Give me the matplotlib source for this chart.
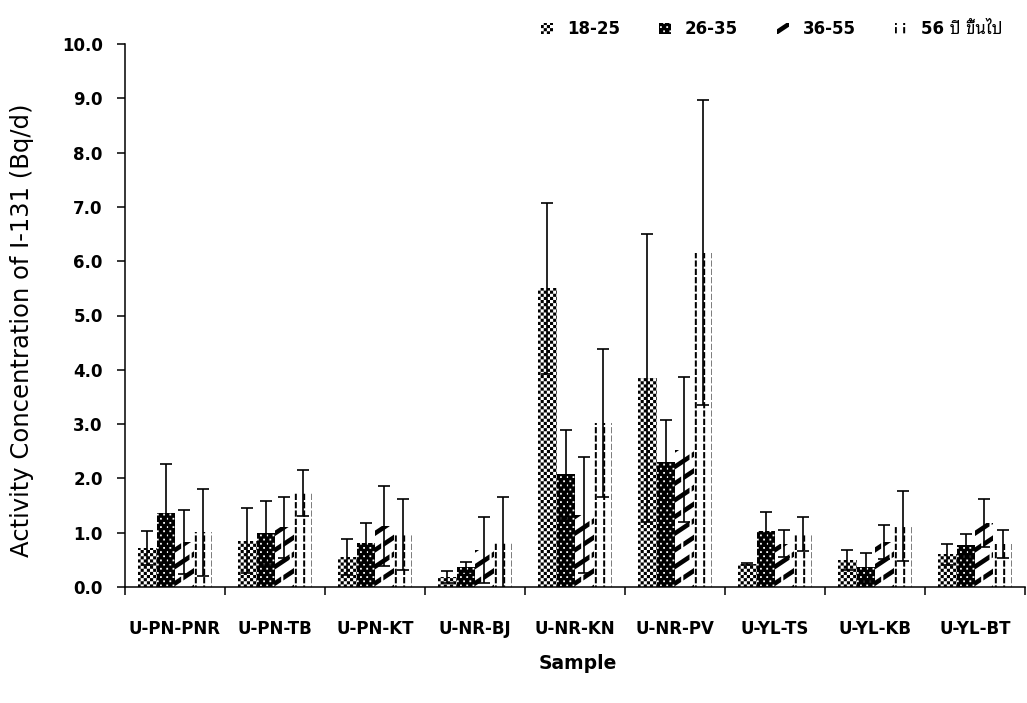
import warnings
import numpy as np
import matplotlib
matplotlib.use('Agg')
import matplotlib.pyplot as plt
import matplotlib.hatch as mhatch
from matplotlib.path import Path

warnings.filterwarnings('ignore')
# Thai glyphs are missing in DejaVu, so fall back to a Thai family
plt.rcParams['font.family'] = ['DejaVu Sans', 'Noto Sans Thai Looped', 'Sarabun', 'Bai Jamjuree']
plt.rcParams['hatch.linewidth'] = 0.0

samples = ['U-PN-PNR', 'U-PN-TB', 'U-PN-KT', 'U-NR-BJ', 'U-NR-KN',
           'U-NR-PV', 'U-YL-TS', 'U-YL-KB', 'U-YL-BT']
groups = ['18-25', '26-35', '36-55', '56 ปี ขึ้นไป']

mean_18_25 = [0.72, 0.85, 0.55, 0.18, 5.50, 3.85, 0.42, 0.50, 0.60]
err_18_25 = [0.32, 0.60, 0.33, 0.11, 1.58, 2.66, 0.02, 0.18, 0.19]
mean_26_35 = [1.36, 1.00, 0.81, 0.37, 2.08, 2.30, 1.03, 0.37, 0.78]
err_26_35 = [0.91, 0.59, 0.37, 0.09, 0.82, 0.78, 0.35, 0.26, 0.20]
mean_36_55 = [0.83, 1.10, 1.12, 0.68, 1.33, 2.53, 0.80, 0.83, 1.18]
err_36_55 = [0.59, 0.56, 0.74, 0.60, 1.07, 1.34, 0.25, 0.31, 0.44]
mean_56 = [1.01, 1.73, 0.97, 0.81, 3.02, 6.16, 0.97, 1.12, 0.79]
err_56 = [0.80, 0.43, 0.65, 0.84, 1.37, 2.80, 0.31, 0.64, 0.26]


# fill patterns of the original (checker, dots, broken slashes, dashed lines)
class PolyHatch(mhatch.HatchPatternBase):
    key = None

    def __init__(self, hatch, density):
        self.polys = self.make_polys() if (hatch and self.key in hatch) else []
        self.num_vertices = 5 * len(self.polys)

    def set_vertices_and_codes(self, vertices, codes):
        for i, p in enumerate(self.polys):
            vertices[5 * i:5 * i + 4] = p
            vertices[5 * i + 4] = p[0]
            codes[5 * i:5 * i + 5] = [Path.MOVETO, Path.LINETO, Path.LINETO,
                                      Path.LINETO, Path.CLOSEPOLY]


def box(x0, y0, x1, y1):
    return [(x0, y0), (x1, y0), (x1, y1), (x0, y1)]


class CheckerHatch(PolyHatch):
    key = 'c'

    def make_polys(self):
        n = 32
        s = 1 / n
        return [box(j * s, i * s, (j + 1) * s, (i + 1) * s)
                for i in range(n) for j in range(n) if (i + j) % 2 == 0]


class DotHatch(PolyHatch):
    key = 'd'

    def make_polys(self):
        d = 0.009
        polys = []
        for i in range(24):
            y = (i + 0.5) / 24
            for j in range(16):
                x = (j + 0.25 + 0.5 * (i % 2)) / 16
                polys.append(box(x - d, y - d, x + d, y + d))
        return polys


class SlashHatch(PolyHatch):
    key = 's'

    def make_polys(self):
        t = 0.055
        L = 0.145
        k_slope = 2 / 3
        polys = []
        for k in range(-7, 8):
            c = k / 6
            for m in range(-1, 7):
                x0 = m / 6 + (k % 2) / 12
                x1 = x0 + L
                polys.append([(x0, k_slope * x0 + c - t / 2), (x1, k_slope * x1 + c - t / 2),
                              (x1, k_slope * x1 + c + t / 2), (x0, k_slope * x0 + c + t / 2)])
        return polys


class VDashHatch(PolyHatch):
    key = 'v'

    def make_polys(self):
        w = 0.01
        L = 0.0625
        polys = []
        for i in range(12):
            x = (i + 0.5) / 12
            for j in range(12):
                y0 = j / 12
                polys.append(box(x - w, y0, x + w, y0 + L))
        return polys


mhatch._hatch_types.extend([CheckerHatch, DotHatch, SlashHatch, VDashHatch])

fig = plt.figure(figsize=(10.27, 7.03), dpi=100)
ax = fig.add_axes([125 / 1027, 1 - 587 / 703, 900 / 1027, 543 / 703])

x = np.arange(len(samples))
w = 0.185
means = [mean_18_25, mean_26_35, mean_36_55, mean_56]
errs = [err_18_25, err_26_35, err_36_55, err_56]
faces = ['white', 'black', 'white', 'white']
hatch_cols = ['black', 'white', 'black', 'black']
hatches = ['c', 'd', 's', 'v']

for i in range(4):
    pos = x + (i - 1.5) * w
    ax.bar(pos, means[i], w, facecolor=faces[i], edgecolor=hatch_cols[i],
           hatch=hatches[i], linewidth=0, label=groups[i], zorder=2)
    ax.errorbar(pos, means[i], yerr=errs[i], fmt='none', ecolor='black',
                elinewidth=1.2, capsize=4.5, capthick=1.2, zorder=3)

ax.set_xlim(-0.5, 8.5)
ax.set_ylim(0, 10)
ax.set_xticks(np.arange(-0.5, 9, 1))
ax.set_xticklabels([])
ax.set_xticks(x, minor=True)
ax.set_xticklabels(samples, minor=True, fontweight='bold', fontsize=12)
ax.tick_params(axis='x', which='major', direction='out', length=6, width=1.1)
ax.tick_params(axis='x', which='minor', length=0, pad=24)
ax.set_yticks(np.arange(0, 10.5, 1))
ax.yaxis.set_major_formatter('{x:.1f}')
ax.tick_params(axis='y', direction='out', length=6, width=1.1, pad=10)
for lab in ax.get_yticklabels():
    lab.set_fontweight('bold')
    lab.set_fontsize(12)

ax.spines['top'].set_visible(False)
ax.spines['right'].set_visible(False)
ax.spines['left'].set_linewidth(1.1)
ax.spines['bottom'].set_linewidth(1.1)

ax.set_ylabel('Activity Concentration of I-131 (Bq/d)', fontsize=17.5)
ax.yaxis.set_label_coords(-0.101, 0.473)
ax.set_xlabel('Sample', fontsize=13.5, fontweight='bold')
ax.xaxis.set_label_coords(0.503, -0.123)

fig.legend(loc='upper right', bbox_to_anchor=(0.976, 0.971), ncol=4, frameon=False,
           prop={'weight': 'bold', 'size': 12}, handlelength=0.7, handleheight=0.7,
           handletextpad=0.85, columnspacing=2.35, borderpad=0, borderaxespad=0)

fig.savefig('out.png', dpi=100)
